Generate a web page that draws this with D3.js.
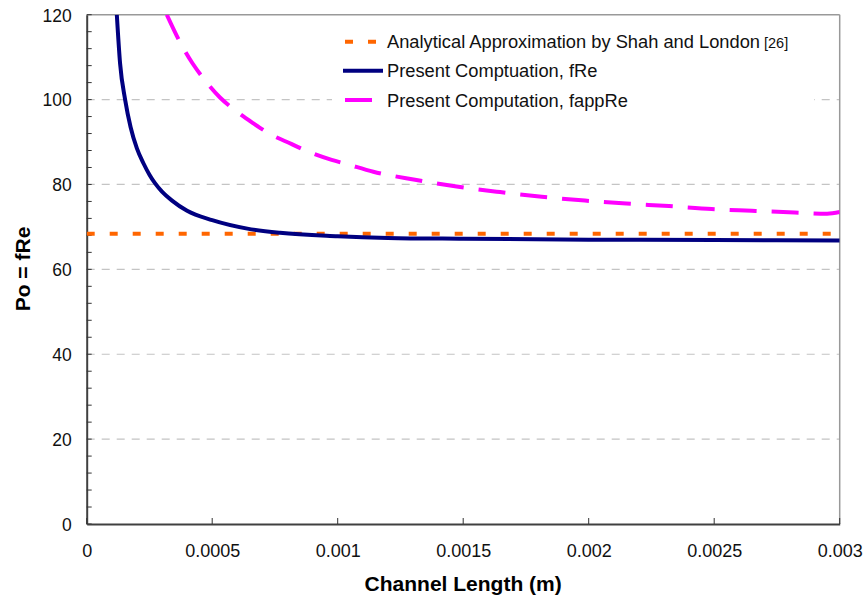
<!DOCTYPE html>
<html>
<head>
<meta charset="utf-8">
<script src="https://cdn.jsdelivr.net/npm/d3@7"></script>
<style>
  body { margin: 0; background: #fff; }
  svg { display: block; font-family: "Liberation Sans", Arial, sans-serif; }
</style>
</head>
<body>
<svg id="chart" width="865" height="597"></svg>
<script>
// Channel length (m) and Poiseuille number samples
const fReLength = [0.00012, 0.000133, 0.000153, 0.000175, 0.0002, 0.000226, 0.00025, 0.000272, 0.0003, 0.00034, 0.0004, 0.0005, 0.00064, 0.00077, 0.001, 0.0012, 0.0015, 0.002, 0.0025, 0.003];
const fReValue  = [120, 108.5, 100, 93.5, 88.5, 85.0, 82.3, 80.3, 78.3, 76.2, 73.8, 71.6, 69.6, 68.6, 67.8, 67.4, 67.2, 67.0, 66.9, 66.8];

const fappLength = [0.000319, 0.000372, 0.000422, 0.000465, 0.000531, 0.000584, 0.000664, 0.000724, 0.000817, 0.000876, 0.000976, 0.001036, 0.001142, 0.001308, 0.001474, 0.001647, 0.001813, 0.001985, 0.00215, 0.00232, 0.00249, 0.00265, 0.00282, 0.00295, 0.003];
const fappValue  = [120, 113.5, 108.5, 105.0, 100.5, 97.8, 94.4, 92.1, 89.5, 87.9, 85.8, 84.8, 83.0, 81.1, 79.5, 78.2, 77.1, 76.2, 75.5, 74.9, 74.2, 73.8, 73.4, 73.1, 73.5];

const shahLondon = 68.4;

const xTicks = [0, 0.0005, 0.001, 0.0015, 0.002, 0.0025, 0.003];
const xTickLabels = ["0", "0.0005", "0.001", "0.0015", "0.002", "0.0025", "0.003"];
const yTicks = [0, 20, 40, 60, 80, 100, 120];

const legendLabels = ["Analytical Approximation by Shah and London", "Present Comptuation, fRe", "Present Computation, fappRe"];
const legendRef = "[26]";

const svg = d3.select("#chart");
const plotLeft = 86.7, plotRight = 839.7, plotTop = 14.7, plotBottom = 524;

const x = d3.scaleLinear().domain([0, 0.003]).range([plotLeft, plotRight]);
const y = d3.scaleLinear().domain([0, 120]).range([plotBottom, plotTop]);

svg.append("defs").append("clipPath").attr("id", "plotClip")
  .append("rect").attr("x", plotLeft).attr("y", plotTop)
  .attr("width", plotRight - plotLeft).attr("height", plotBottom - plotTop);

// horizontal gridlines
svg.append("g").selectAll("line").data(yTicks.filter(d => d > 0 && d < 120)).join("line")
  .attr("x1", plotLeft).attr("x2", plotRight)
  .attr("y1", d => y(d)).attr("y2", d => y(d))
  .attr("stroke", "#c4c4c4").attr("stroke-width", 1.2).attr("stroke-dasharray", "8,7");

// top and right frame
svg.append("line").attr("x1", plotLeft).attr("x2", plotRight).attr("y1", plotTop).attr("y2", plotTop)
  .attr("stroke", "#999").attr("stroke-width", 1.5);
svg.append("line").attr("x1", plotRight).attr("x2", plotRight).attr("y1", plotTop).attr("y2", plotBottom)
  .attr("stroke", "#999").attr("stroke-width", 1.5);

// legend background
const lg = svg.append("g");
lg.append("rect").attr("x", 332).attr("y", 26).attr("width", 482).attr("height", 86).attr("fill", "#fff");

// axes
const yAxis = d3.axisLeft(y).tickValues(yTicks).tickSize(0).tickPadding(15).tickFormat(d3.format("d"));
const gy = svg.append("g").attr("transform", `translate(${plotLeft},0)`).call(yAxis);
gy.select(".domain").attr("stroke", "#404040").attr("stroke-width", 2);
gy.selectAll("text").attr("font-size", 17.5).attr("fill", "#111").attr("dy", "0.36em");

// y minor ticks, inside
svg.append("g").selectAll("line").data(d3.range(0, 121, 4)).join("line")
  .attr("x1", plotLeft).attr("x2", plotLeft + 5)
  .attr("y1", d => y(d)).attr("y2", d => y(d))
  .attr("stroke", "#333").attr("stroke-width", 1);

const xAxis = d3.axisBottom(x).tickValues(xTicks).tickSize(0).tickPadding(20)
  .tickFormat((d, i) => xTickLabels[i]);
const gx = svg.append("g").attr("transform", `translate(0,${plotBottom})`).call(xAxis);
gx.select(".domain").attr("stroke", "#404040").attr("stroke-width", 2);
gx.selectAll("text").attr("font-size", 18).attr("fill", "#111");

// x ticks, inside
svg.append("g").selectAll("line").data(xTicks).join("line")
  .attr("x1", d => x(d)).attr("x2", d => x(d))
  .attr("y1", plotBottom).attr("y2", plotBottom - 6)
  .attr("stroke", "#333").attr("stroke-width", 1);

// axis titles
svg.append("text").attr("x", (plotLeft + plotRight) / 2).attr("y", 591)
  .attr("text-anchor", "middle").attr("font-size", 21).attr("font-weight", "bold")
  .text("Channel Length (m)");
svg.append("text").attr("transform", "translate(30,269) rotate(-90)")
  .attr("text-anchor", "middle").attr("font-size", 21).attr("font-weight", "bold")
  .text("Po = fRe");

// series
const plot = svg.append("g").attr("clip-path", "url(#plotClip)");

plot.append("line")
  .attr("x1", x(0)).attr("x2", x(0.003))
  .attr("y1", y(shahLondon)).attr("y2", y(shahLondon))
  .attr("stroke", "#ff6600").attr("stroke-width", 4).attr("stroke-dasharray", "8,15");

const line = d3.line().x(d => x(d[0])).y(d => y(d[1])).curve(d3.curveMonotoneX);

plot.append("path").datum(d3.zip(fappLength, fappValue))
  .attr("d", line).attr("fill", "none")
  .attr("stroke", "#ff00ff").attr("stroke-width", 4).attr("stroke-dasharray", "27,15");

plot.append("path").datum(d3.zip(fReLength, fReValue))
  .attr("d", line).attr("fill", "none")
  .attr("stroke", "#000080").attr("stroke-width", 4);

// legend
const rows = [41.7, 70.7, 100];
lg.append("line").attr("x1", 345).attr("x2", 376).attr("y1", rows[0]).attr("y2", rows[0])
  .attr("stroke", "#ff6600").attr("stroke-width", 4).attr("stroke-dasharray", "8,15");
lg.append("line").attr("x1", 343).attr("x2", 383).attr("y1", rows[1]).attr("y2", rows[1])
  .attr("stroke", "#000080").attr("stroke-width", 4);
lg.append("line").attr("x1", 345).attr("x2", 372).attr("y1", rows[2]).attr("y2", rows[2])
  .attr("stroke", "#ff00ff").attr("stroke-width", 4);

legendLabels.forEach((t, i) => {
  const tx = lg.append("text").attr("x", 387).attr("y", rows[i]).attr("dy", "0.36em")
    .attr("font-size", 18.3).attr("fill", "#111").text(t);
  if (i === 0) tx.append("tspan").attr("font-size", 14.5).attr("dx", 4).text(legendRef);
});
</script>
</body>
</html>
